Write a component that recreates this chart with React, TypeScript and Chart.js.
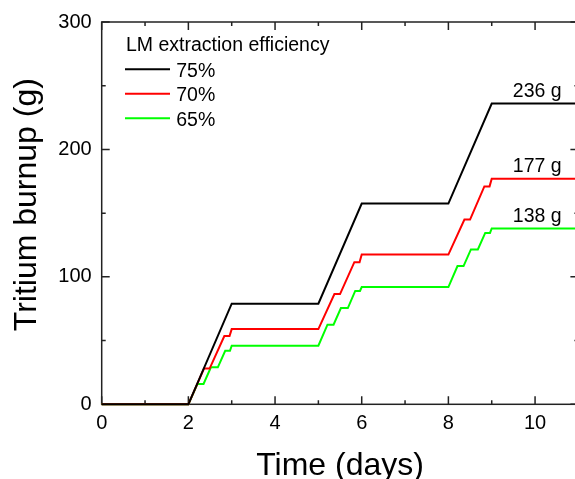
import React, { useEffect, useRef } from 'react';
import { Chart, registerables } from 'chart.js';

Chart.register(...registerables);

const FONT = '"Liberation Sans", Arial, sans-serif';

const seriesNames = ['75%', '70%', '65%'];
const seriesColors = ['#000000', '#ff0000', '#00ff00'];

const time75 = [0, 2, 3, 5, 6, 8, 9, 11];
const burnup75 = [0, 0, 79, 79, 157.5, 157.5, 236, 236];

const time70 = [0, 2, 2.36, 2.49, 2.83, 2.95, 3.0, 5, 5.37, 5.5, 5.83, 5.95, 6.0, 8, 8.37, 8.5, 8.83, 8.95, 9.0, 11];
const burnup70 = [0, 0, 28, 28, 53.5, 53.5, 59, 59, 86.5, 86.5, 111.5, 111.5, 117.5, 117.5, 145, 145, 171, 171, 177, 177];

const time65 = [0, 2, 2.21, 2.35, 2.52, 2.68, 2.85, 2.96, 3.0, 5, 5.21, 5.35, 5.52, 5.68, 5.85, 5.96, 6.0, 8, 8.21, 8.35, 8.52, 8.68, 8.85, 8.96, 9.0, 11];
const burnup65 = [0, 0, 16, 16, 29, 29, 42, 42, 46, 46, 62.5, 62.5, 75.5, 75.5, 89, 89, 92, 92, 108.5, 108.5, 121.5, 121.5, 134.5, 134.5, 138, 138];

const xMajorTicks = [0, 2, 4, 6, 8, 10];
const xMinorTicks = [1, 3, 5, 7, 9, 11];
const yMajorTicks = [0, 100, 200, 300];
const yMinorTicks = [50, 150, 250];

const endLabels = ['236 g', '177 g', '138 g'];
const endValues = [236, 177, 138];
const endLabelTime = 10.05;

const legendTitle = 'LM extraction efficiency';
const xTitle = 'Time (days)';
const yTitle = 'Tritium burnup (g)';

const CW = 600;
const CH = 500;

function pts(xs: number[], ys: number[]) {
  return xs.map((x, i) => ({ x, y: ys[i] }));
}

const framePlugin = {
  id: 'frame',
  beforeDatasetsDraw(chart: any) {
    const { ctx, chartArea: a, scales } = chart;
    const xs = scales.x;
    const ys = scales.y;
    ctx.save();
    ctx.strokeStyle = '#222';
    ctx.lineWidth = 1.5;
    ctx.strokeRect(a.left, a.top, a.right - a.left, a.bottom - a.top);
    ctx.beginPath();
    const drawX = (v: number, len: number) => {
      const p = xs.getPixelForValue(v);
      ctx.moveTo(p, a.bottom);
      ctx.lineTo(p, a.bottom - len);
      ctx.moveTo(p, a.top);
      ctx.lineTo(p, a.top + len);
    };
    const drawY = (v: number, len: number) => {
      const p = ys.getPixelForValue(v);
      ctx.moveTo(a.left, p);
      ctx.lineTo(a.left + len, p);
      ctx.moveTo(a.right, p);
      ctx.lineTo(a.right - len, p);
    };
    xMajorTicks.forEach((v) => drawX(v, 8));
    xMinorTicks.forEach((v) => drawX(v, 4));
    yMajorTicks.forEach((v) => drawY(v, 8));
    yMinorTicks.forEach((v) => drawY(v, 4));
    ctx.stroke();
    ctx.restore();
  },
  afterDatasetsDraw(chart: any) {
    const { ctx, chartArea: a, scales } = chart;
    const xs = scales.x;
    const ys = scales.y;
    ctx.save();
    ctx.fillStyle = '#000';
    // legend
    ctx.font = `19.5px ${FONT}`;
    ctx.textAlign = 'left';
    ctx.textBaseline = 'alphabetic';
    ctx.fillText(legendTitle, a.left + 24.3, a.top + 28.8);
    chart.data.datasets.forEach((ds: any, i: number) => {
      const ly = a.top + 47.3 + i * 24.5;
      ctx.strokeStyle = ds.borderColor;
      ctx.lineWidth = 2;
      ctx.beginPath();
      ctx.moveTo(a.left + 23.3, ly);
      ctx.lineTo(a.left + 68.3, ly);
      ctx.stroke();
      ctx.fillStyle = '#000';
      ctx.fillText(ds.label, a.left + 74.5, ly + 7.2);
    });
    // end labels
    ctx.textAlign = 'center';
    endLabels.forEach((t, i) => {
      ctx.fillText(t, xs.getPixelForValue(endLabelTime), ys.getPixelForValue(endValues[i]) - 6.5);
    });
    // axis titles
    ctx.font = `32px ${FONT}`;
    ctx.textAlign = 'center';
    ctx.textBaseline = 'alphabetic';
    ctx.fillText(xTitle, (a.left + a.right) / 2, a.bottom + 70.4);
    ctx.translate(a.left - 65.7, (a.top + a.bottom) / 2 - 8.5);
    ctx.rotate(-Math.PI / 2);
    ctx.fillText(yTitle, 0, 0);
    ctx.restore();
  },
};

export default function App() {
  const ref = useRef<HTMLCanvasElement | null>(null);
  useEffect(() => {
    document.body.style.margin = '0';
    document.body.style.overflow = 'hidden';
    const canvas = ref.current;
    if (!canvas) return;
    const data = [pts(time75, burnup75), pts(time70, burnup70), pts(time65, burnup65)];
    const chart = new Chart(canvas, {
      type: 'line',
      data: {
        datasets: [2, 1, 0].map((i) => ({
          label: seriesNames[i],
          data: data[i],
          borderColor: seriesColors[i],
          backgroundColor: seriesColors[i],
          borderWidth: 2,
          pointRadius: 0,
          tension: 0,
          clip: false as any,
          fill: false,
        })).reverse(),
      },
      options: {
        responsive: false,
        animation: false,
        devicePixelRatio: 1,
        parsing: true as any,
        layout: { padding: { left: 0, top: 20.7, right: CW - 578.4, bottom: 0 } },
        plugins: { legend: { display: false }, tooltip: { enabled: false } },
        scales: {
          x: {
            type: 'linear',
            min: 0,
            max: 11,
            grid: { display: false, drawTicks: false },
            border: { display: false },
            afterBuildTicks: (s: any) => {
              s.ticks = xMajorTicks.map((v) => ({ value: v }));
            },
            afterFit: (s: any) => {
              s.height = CH - 404.3;
            },
            ticks: { padding: 7, color: '#000', font: { family: FONT, size: 20 } },
          },
          y: {
            type: 'linear',
            min: 0,
            max: 300,
            grid: { display: false, drawTicks: false },
            border: { display: false },
            afterBuildTicks: (s: any) => {
              s.ticks = yMajorTicks.map((v) => ({ value: v }));
            },
            afterFit: (s: any) => {
              s.width = 101.7;
            },
            ticks: { padding: 10, color: '#000', font: { family: FONT, size: 20 } },
          },
        },
      },
      plugins: [framePlugin],
    } as any);
    return () => chart.destroy();
  }, []);
  return (
    <div style={{ width: 575, height: 479, overflow: 'hidden', position: 'relative', background: '#fff' }}>
      <canvas ref={ref} width={CW} height={CH} style={{ display: 'block', width: CW, height: CH }} />
    </div>
  );
}
